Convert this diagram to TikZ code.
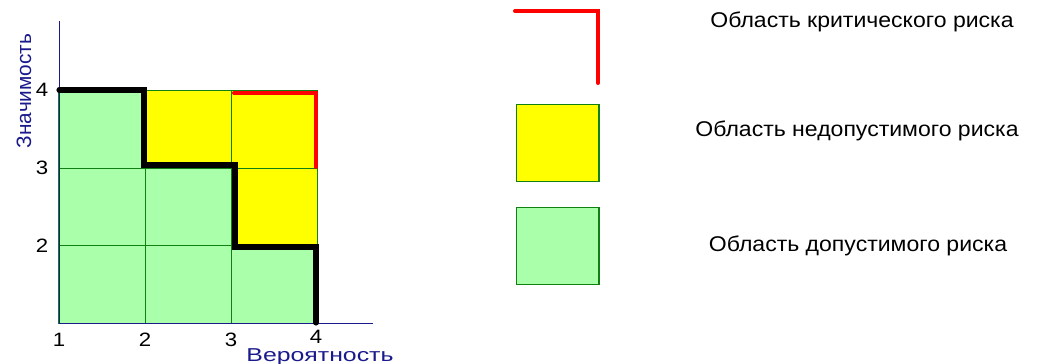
\documentclass[tikz,border=0pt]{standalone}
\usepackage{fontspec}
\setmainfont{Liberation Sans}
\definecolor{okgreen}{HTML}{AAFFAA}
\definecolor{gridgreen}{HTML}{108010}
\definecolor{axisblue}{HTML}{1A1A8C}
\definecolor{riskred}{HTML}{FF0000}
\definecolor{badyellow}{HTML}{FFFF00}
\begin{document}
\begin{tikzpicture}[x=0.75pt,y=-0.75pt,
  okcell/.style={fill=okgreen,draw=gridgreen,line width=0.9pt},
  badcell/.style={fill=badyellow,draw=gridgreen,line width=0.9pt},
  axisline/.style={draw=axisblue,line width=0.8pt},
  tick/.style={font=\fontsize{14.5pt}{16pt}\selectfont,inner sep=0pt,xscale=1.15},
  xaxlabel/.style={font=\fontsize{14pt}{16pt}\selectfont,text=axisblue,inner sep=0pt,xscale=1.33},
  yaxlabel/.style={font=\fontsize{15.6pt}{17pt}\selectfont,text=axisblue,inner sep=0pt},
  legtext/.style={font=\fontsize{16pt}{18pt}\selectfont,inner sep=0pt,xscale=1.08},
  boundary/.style={line width=3.8pt,black,line join=miter,line cap=round},
  critical/.style={line width=3pt,riskred,line join=miter,line cap=round}]
\useasboundingbox (0,0) rectangle (1046,364);
% cells
\foreach \c/\r/\s in {0/0/okcell,1/0/badcell,2/0/badcell,
                      0/1/okcell,1/1/okcell,2/1/badcell,
                      0/2/okcell,1/2/okcell,2/2/okcell}{
  \path[\s] ({59+86.2*\c},{90.5+77.6*\r}) rectangle ++(86.2,77.6);
}
% axes
\coordinate (ytop) at (59.5,21);
\coordinate (orig) at (59.5,323.3);
\coordinate (xend) at (373,323.3);
\draw[axisline] (ytop) -- (orig) -- (xend);
% boundary
\coordinate (b0) at (59,90);
\coordinate (b1) at (144,90);
\coordinate (b2) at (144,165);
\coordinate (b3) at (235,165);
\coordinate (b4) at (235,247);
\coordinate (b5) at (316,247);
\coordinate (b6) at (316,323);
\draw[boundary] (b0) -- (b1) -- (b2) -- (b3) -- (b4) -- (b5) -- (b6);
\fill (b0) circle (2.2);
% critical
\coordinate (r0) at (234,93);
\coordinate (r1) at (316,93);
\coordinate (r2) at (316,167);
\draw[critical] (r0) -- (r1) -- (r2);
% ticks
\node[tick] (y4) at (42,90) {4};
\node[tick] (y3) at (42,168) {3};
\node[tick] (y2) at (42,246) {2};
\node[tick] (x1) at (59,340) {1};
\node[tick] (x2) at (145,340) {2};
\node[tick] (x3) at (231,340) {3};
\node[tick] (x4) at (316,336.5) {4};
\node[xaxlabel] (xlab) at (320,357.5) {Вероятность};
\node[yaxlabel,rotate=90] (ylab) at (24,91) {Значимость};
% legend
\coordinate (l0) at (515,11);
\coordinate (l1) at (598,11);
\coordinate (l2) at (598,83);
\draw[critical] (l0) -- (l1) -- (l2);
\path[badcell] (516.5,104.5) rectangle (599,181.5);
\path[okcell] (516.5,207.5) rectangle (599,284.5);
\node[legtext] (t1) at (862,22) {Область критического риска};
\node[legtext] (t2) at (857,131) {Область недопустимого риска};
\node[legtext] (t3) at (858,246) {Область допустимого риска};
\end{tikzpicture}
\end{document}
